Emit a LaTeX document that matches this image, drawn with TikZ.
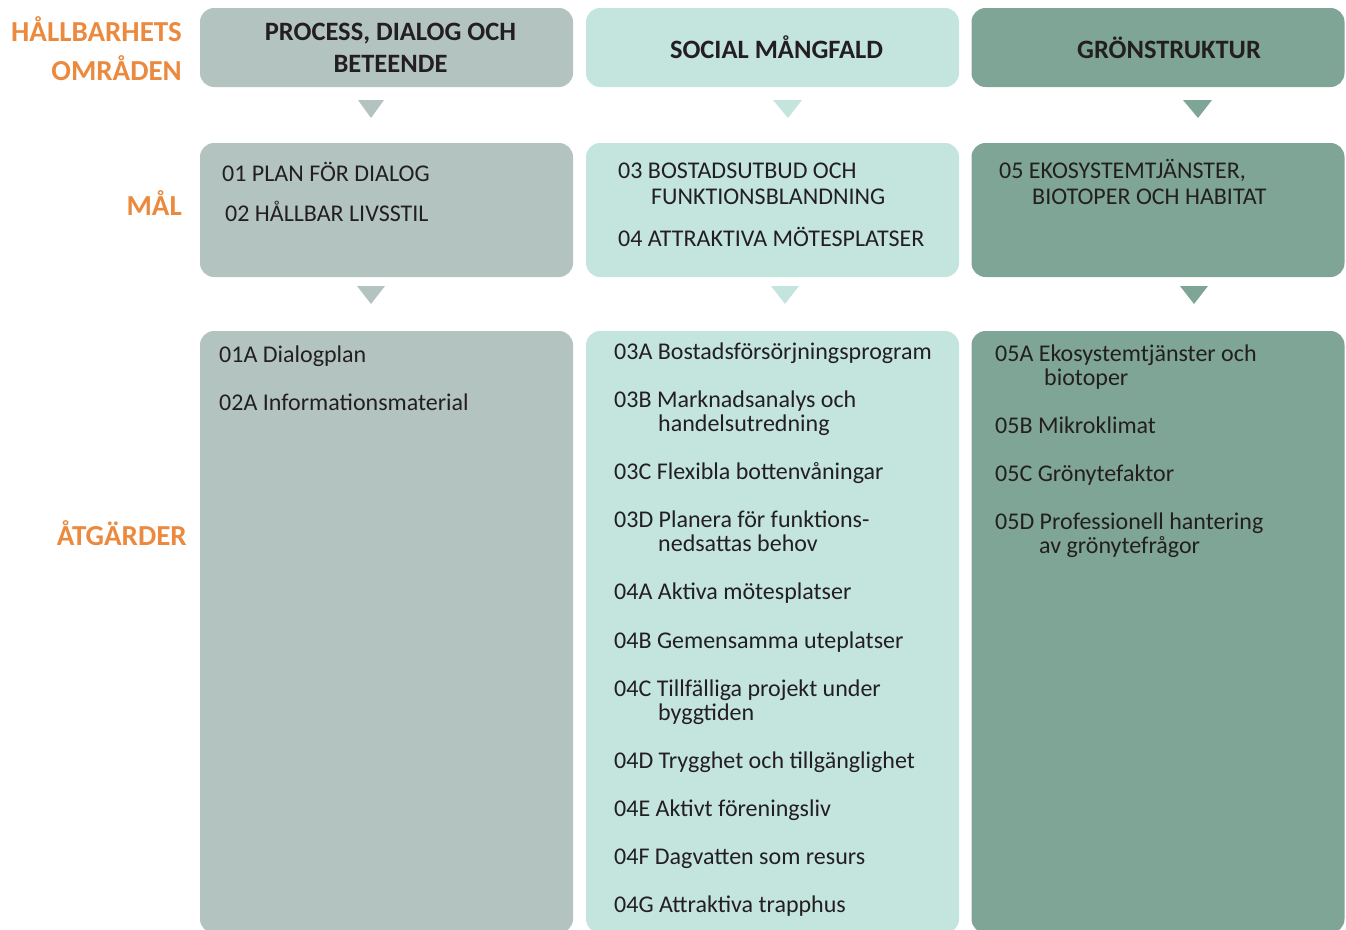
\documentclass[tikz,border=0pt]{standalone}
\usepackage{fontspec}
\setmainfont{Carlito}

\definecolor{procgray}{HTML}{B3C4C0}
\definecolor{socmint}{HTML}{C4E4DE}
\definecolor{grongreen}{HTML}{7FA597}
\definecolor{labelorange}{HTML}{EB8A3F}
\definecolor{textdark}{HTML}{231F20}

\tikzset{
  area/.style={rounded corners=14pt, inner sep=0pt, minimum width=373pt},
  head/.style={font=\bfseries\fontsize{26.5}{32}\selectfont, align=center, text=textdark, inner sep=0pt},
  side/.style={font=\bfseries\fontsize{29}{39}\selectfont, text=labelorange, anchor=base east, inner sep=0pt},
  item/.style={font=\fontsize{24}{24}\selectfont, text=textdark, anchor=base west, inner sep=0pt},
}

\begin{document}
\begin{tikzpicture}[x=1pt, y=-1pt]
    \useasboundingbox (0,0) rectangle (1346,929);

    % areas
    \node[area, fill=procgray, minimum height=79pt] (proc) at (386.5,47.5) {};
    \node[area, fill=socmint, minimum height=79pt] (soc) at (772.5,47.5) {};
    \node[area, fill=grongreen, minimum height=79pt] (gron) at (1158,47.5) {};
    \node[head] (proct) at ([xshift=4pt]proc.center) {PROCESS, DIALOG OCH\\BETEENDE};
    \node[head] (soct) at ([xshift=4pt]soc.center) {SOCIAL MÅNGFALD};
    \node[head] (gront) at ([xshift=11pt]gron.center) {GRÖNSTRUKTUR};

    % goals
    \node[area, fill=procgray, minimum height=134pt] (procmal) at (386.5,210) {};
    \node[area, fill=socmint, minimum height=134pt] (socmal) at (772.5,210) {};
    \node[area, fill=grongreen, minimum height=134pt] (gronmal) at (1158,210) {};

    % measures
    \node[area, fill=procgray, minimum height=602pt] (procatg) at (386.5,632) {};
    \node[area, fill=socmint, minimum height=602pt] (socatg) at (772.5,632) {};
    \node[area, fill=grongreen, minimum height=602pt] (gronatg) at (1158,632) {};

    % arrows between rows
    \fill[procgray] (358,100) -- (384,100) -- (371,118) -- cycle;
    \fill[socmint] (773,100) -- (802,100) -- (788,118) -- cycle;
    \fill[grongreen] (1183,100) -- (1212,100) -- (1198,118) -- cycle;
    \fill[procgray] (357,286) -- (385,286) -- (371,304) -- cycle;
    \fill[socmint] (771,286) -- (799,286) -- (785,304) -- cycle;
    \fill[grongreen] (1180,286) -- (1208,286) -- (1194,304) -- cycle;

    % row labels
    \node[side] (omr1) at (182,41) {HÅLLBARHETS};
    \node[side] (omr2) at (182,80) {OMRÅDEN};
    \node[side] (mal) at (182,215) {MÅL};
    \node[side] (atg) at (187,545) {ÅTGÄRDER};

    % goal texts
    \node[item] (m01) at (222,181) {01 PLAN FÖR DIALOG};
    \node[item] (m02) at (225,221) {02 HÅLLBAR LIVSSTIL};
    \node[item] (m03) at (618,178) {03 BOSTADSUTBUD OCH};
    \node[item] (m03b) at (651,204) {FUNKTIONSBLANDNING};
    \node[item] (m04) at (618,246) {04 ATTRAKTIVA MÖTESPLATSER};
    \node[item] (m05) at (999,178) {05 EKOSYSTEMTJÄNSTER,};
    \node[item] (m05b) at (1032,204) {BIOTOPER OCH HABITAT};

    % measure texts
    \node[item] (a01A) at (219,362) {01A Dialogplan};
    \node[item] (a02A) at (219,410) {02A Informationsmaterial};

    \node[item] (a03A) at (614,359) {03A Bostadsförsörjningsprogram};
    \node[item] (a03B) at (614,407) {03B Marknadsanalys och};
    \node[item] (a03Bb) at (658,431) {handelsutredning};
    \node[item] (a03C) at (614,479) {03C Flexibla bottenvåningar};
    \node[item] (a03D) at (614,527) {03D Planera för funktions-};
    \node[item] (a03Db) at (658,551) {nedsattas behov};
    \node[item] (a04A) at (614,599) {04A Aktiva mötesplatser};
    \node[item] (a04B) at (614,648) {04B Gemensamma uteplatser};
    \node[item] (a04C) at (614,696) {04C Tillfälliga projekt under};
    \node[item] (a04Cb) at (658,720) {byggtiden};
    \node[item] (a04D) at (614,768) {04D Trygghet och tillgänglighet};
    \node[item] (a04E) at (614,816) {04E Aktivt föreningsliv};
    \node[item] (a04F) at (614,864) {04F Dagvatten som resurs};
    \node[item] (a04G) at (614,912) {04G Attraktiva trapphus};

    \node[item] (a05A) at (995,361) {05A Ekosystemtjänster och};
    \node[item] (a05Ab) at (1044,385) {biotoper};
    \node[item] (a05B) at (995,433) {05B Mikroklimat};
    \node[item] (a05C) at (995,481) {05C Grönytefaktor};
    \node[item] (a05D) at (995,529) {05D Professionell hantering};
    \node[item] (a05Db) at (1039,553) {av grönytefrågor};
\end{tikzpicture}
\end{document}
